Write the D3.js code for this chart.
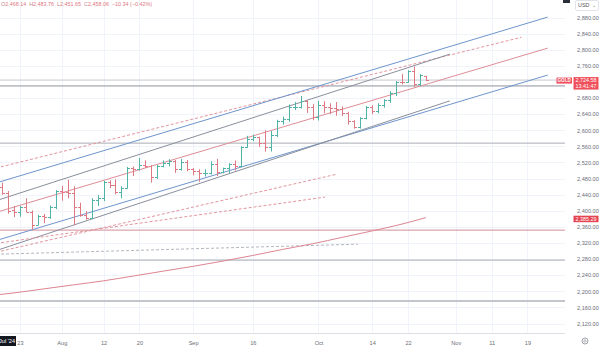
<!DOCTYPE html>
<html>
<head>
<meta charset="utf-8">
<script src="https://cdn.jsdelivr.net/npm/d3@7"></script>
<style>
  body { margin: 0; background: #fff; }
  svg { display: block; font-family: "Liberation Sans", "Noto Sans", sans-serif; }
</style>
</head>
<body>
<svg id="chart" width="600" height="353"></svg>
<script>
// daily bars, Jul 17 -> Oct 25 2024 (trading days only)
const days = ['07-17','07-18','07-19','07-22','07-23','07-24','07-25','07-26','07-29','07-30','07-31',
  '08-01','08-02','08-05','08-06','08-07','08-08','08-09','08-12','08-13','08-14','08-15','08-16',
  '08-19','08-20','08-21','08-22','08-23','08-26','08-27','08-28','08-29','08-30',
  '09-02','09-03','09-04','09-05','09-06','09-09','09-10','09-11','09-12','09-13',
  '09-16','09-17','09-18','09-19','09-20','09-23','09-24','09-25','09-26','09-27','09-30',
  '10-01','10-02','10-03','10-04','10-07','10-08','10-09','10-10','10-11',
  '10-14','10-15','10-16','10-17','10-18','10-21','10-22','10-23','10-24','10-25'];
const opens = [2468.14,2458,2445,2401,2396,2409,2398,2364,2387,2384,2410,
  2448,2446,2443,2410,2390,2382,2427,2431,2472,2465,2447,2456,
  2507,2504,2514,2512,2484,2512,2518,2524,2504,2521,
  2503,2500,2493,2495,2517,2497,2506,2516,2512,2558,
  2578,2582,2569,2559,2587,2622,2628,2657,2657,2672,2658,
  2634,2663,2657,2656,2653,2644,2622,2608,2630,
  2657,2649,2662,2674,2693,2721,2720,2748,2715,2734];
const highs = [2483.76,2470,2449,2412,2412,2431,2401,2390,2392,2413,2451,
  2462,2477,2461,2420,2399,2431,2439,2474,2476,2478,2461,2509,
  2510,2531,2525,2513,2514,2525,2528,2526,2529,2526,
  2506,2503,2503,2523,2529,2507,2518,2525,2560,2586,
  2589,2584,2600,2598,2626,2634,2664,2670,2685,2674,2665,
  2673,2672,2667,2670,2659,2646,2625,2632,2660,
  2662,2667,2677,2697,2722,2740,2749,2758,2740,2735];
const lows = [2451.65,2440,2393,2384,2385,2397,2353,2364,2369,2380,2404,
  2425,2431,2364,2385,2378,2380,2412,2424,2456,2441,2431,2455,
  2486,2500,2506,2470,2479,2508,2510,2494,2500,2498,
  2488,2472,2485,2490,2486,2493,2494,2500,2508,2556,
  2573,2559,2547,2547,2583,2614,2621,2650,2654,2643,2625,
  2624,2642,2640,2636,2635,2614,2604,2604,2627,
  2640,2642,2656,2668,2685,2714,2718,2708,2710,2722];
const closes = [2458.06,2445,2400,2396,2409,2398,2364,2387,2384,2410,2448,
  2446,2443,2410,2390,2382,2427,2431,2472,2465,2447,2456,2507,
  2504,2514,2512,2484,2512,2518,2524,2504,2521,2503,
  2500,2493,2495,2517,2497,2506,2516,2512,2558,2578,
  2582,2569,2559,2587,2622,2628,2657,2657,2672,2658,2634,
  2663,2657,2656,2653,2644,2622,2608,2630,2657,
  2649,2662,2674,2693,2721,2720,2748,2715,2736,2724.58];

// hovered bar change (first bar)
const hoverChange = [-10.34, -0.42];

// 200-day average, sampled weekly (bar index, value)
const maIndex = [0, 3, 8, 13, 18, 23, 28, 33, 38, 43, 48, 53, 58, 63, 68, 72];
const maValues = [2191, 2196, 2206, 2216, 2226, 2238, 2250, 2262, 2275, 2289, 2304, 2318, 2334, 2350, 2367, 2383];
const maLast = 2385.29;

// drawn trend lines: [barIndex, price] start and end
const lineFrom = [[0, 2506], [0, 2469], [0, 2425], [0, 2396], [0, 2326], [0, 2301], [0, 2297], [0, 2319], [0, 2292]];
const lineTo = [[88, 2831], [92.4, 2881], [76, 2789], [92.4, 2804], [92.4, 2737], [76, 2673], [57.1, 2491], [55.1, 2434], [60.6, 2317]];
// horizontal levels
const levels = [2710, 2568, 2352, 2277.5, 2176];

// axis ticks
const priceTicks = [2120, 2160, 2200, 2240, 2280, 2320, 2360, 2400, 2440, 2480, 2520, 2560, 2600, 2640, 2680, 2760, 2800, 2840, 2880];
const timeTickIndex = [4, 11, 18, 24, 33, 43, 54, 63, 69, 77, 83, 89];
const timeTickLabels = ['23', 'Aug', '12', '20', 'Sep', '16', 'Oct', '14', '22', 'Nov', '11', '19'];

const W = 600, H = 353, plotW = 565, plotH = 333;
const upColor = '#4fb3a5', downColor = '#de7883';

const svg = d3.select('#chart');

const xScale = d3.scaleLinear().domain([0, 95]).range([-3.9, 563.25]);
const yScale = d3.scaleLinear().domain([2120, 2880]).range([323.5, 17.5]);

svg.append('clipPath').attr('id', 'plot')
  .append('rect').attr('width', plotW).attr('height', plotH);

const plot = svg.append('g').attr('clip-path', 'url(#plot)');

// grid
plot.append('g').selectAll('line').data(priceTicks).join('line')
  .attr('x1', 0).attr('x2', plotW)
  .attr('y1', d => Math.round(yScale(d)) + 0.5).attr('y2', d => Math.round(yScale(d)) + 0.5)
  .attr('stroke', '#f0f3fa');
plot.append('g').selectAll('line').data(timeTickIndex).join('line')
  .attr('y1', 0).attr('y2', plotH)
  .attr('x1', d => Math.round(xScale(d)) + 0.5).attr('x2', d => Math.round(xScale(d)) + 0.5)
  .attr('stroke', '#f0f3fa');

// horizontal levels
const levelColors = ['#8f939e', '#a9acb6', '#d9a3ab', '#b8bbc3', '#c3c5cc'];
const levelWidths = [1, 1, 1.2, 1.2, 2];
plot.append('g').selectAll('line').data(levels).join('line')
  .attr('x1', 0).attr('x2', plotW)
  .attr('y1', d => yScale(d)).attr('y2', d => yScale(d))
  .attr('stroke', (_, i) => levelColors[i])
  .attr('stroke-width', (_, i) => levelWidths[i]);

// current price line
plot.append('line')
  .attr('x1', 0).attr('x2', plotW)
  .attr('y1', yScale(closes[closes.length - 1])).attr('y2', yScale(closes[closes.length - 1]))
  .attr('stroke', '#c8c9cf');

// trend lines
const lineColors = ['#e2959d', '#6e95cc', '#8a8f9c', '#de8d96', '#6e95cc', '#8a8f9c', '#e2959d', '#e2959d', '#b4b7c0'];
const lineDash = [true, false, false, false, false, false, true, true, true];
plot.append('g').selectAll('line').data(lineFrom).join('line')
  .attr('x1', d => xScale(d[0])).attr('y1', d => yScale(d[1]))
  .attr('x2', (_, i) => xScale(lineTo[i][0])).attr('y2', (_, i) => yScale(lineTo[i][1]))
  .attr('stroke', (_, i) => lineColors[i])
  .attr('stroke-dasharray', (_, i) => lineDash[i] ? '3,2' : null);

// moving average
const maGen = d3.line()
  .x((_, i) => xScale(maIndex[i]))
  .y(d => yScale(d))
  .curve(d3.curveMonotoneX);
plot.append('path')
  .attr('d', maGen(maValues))
  .attr('fill', 'none')
  .attr('stroke', '#dc8590');

// OHLC bars
const bars = plot.append('g').selectAll('g').data(days).join('g')
  .attr('stroke', (_, i) => closes[i] >= opens[i] ? upColor : downColor);
const bx = i => Math.round(xScale(i)) + 0.5;
bars.append('line')
  .attr('x1', (_, i) => bx(i)).attr('x2', (_, i) => bx(i))
  .attr('y1', (_, i) => yScale(highs[i])).attr('y2', (_, i) => yScale(lows[i]));
bars.append('line')
  .attr('x1', (_, i) => bx(i) - 2.5).attr('x2', (_, i) => bx(i))
  .attr('y1', (_, i) => Math.round(yScale(opens[i])) + 0.5).attr('y2', (_, i) => Math.round(yScale(opens[i])) + 0.5);
bars.append('line')
  .attr('x1', (_, i) => bx(i)).attr('x2', (_, i) => bx(i) + 2.5)
  .attr('y1', (_, i) => Math.round(yScale(closes[i])) + 0.5).attr('y2', (_, i) => Math.round(yScale(closes[i])) + 0.5);

// price axis
const fmt = d3.format(',.2f');
const yAxis = svg.append('g')
  .attr('transform', `translate(${plotW + 9},0)`)
  .call(d3.axisRight(yScale).tickValues(priceTicks).tickFormat(fmt).tickSize(0));
yAxis.select('.domain').remove();
yAxis.selectAll('text')
  .attr('font-size', 5.6).attr('fill', '#6b6e78').attr('font-family', 'Liberation Sans, sans-serif');

// time axis
svg.append('line')
  .attr('x1', 0).attr('x2', plotW).attr('y1', plotH + 0.5).attr('y2', plotH + 0.5)
  .attr('stroke', '#dcdee4');
const xAxis = svg.append('g')
  .attr('transform', `translate(0,${plotH + 5})`)
  .call(d3.axisBottom(xScale).tickValues(timeTickIndex).tickFormat((_, i) => timeTickLabels[i]).tickSize(0));
xAxis.select('.domain').remove();
xAxis.selectAll('text')
  .attr('font-size', 5.6).attr('fill', '#6b6e78').attr('font-family', 'Liberation Sans, sans-serif');

// crosshair date box (cut at the left edge)
svg.append('rect').attr('x', 0).attr('y', 336).attr('width', 16).attr('height', 10).attr('fill', '#131722');
svg.append('text').attr('x', 15).attr('y', 343).attr('text-anchor', 'end')
  .attr('font-size', 5.6).attr('fill', '#fff').text("Jul '24");

// settings gear
svg.append('circle').attr('cx', 585).attr('cy', 341).attr('r', 3).attr('fill', 'none').attr('stroke', '#8a8d96').attr('stroke-width', 0.8);
svg.append('circle').attr('cx', 585).attr('cy', 341).attr('r', 1.2).attr('fill', 'none').attr('stroke', '#8a8d96').attr('stroke-width', 0.6);

// last price labels
const last = closes[closes.length - 1];
const yLast = yScale(last);
svg.append('rect').attr('x', 556.5).attr('y', yLast - 2.5).attr('width', 15.5).attr('height', 6).attr('fill', '#ef4f5a');
svg.append('text').attr('x', 564.2).attr('y', yLast + 2).attr('text-anchor', 'middle')
  .attr('font-size', 4.6).attr('font-weight', 'bold').attr('fill', '#fff').text('GOLD');
svg.append('rect').attr('x', 573.5).attr('y', yLast - 3).attr('width', 25).attr('height', 12.5).attr('fill', '#ef4f5a');
svg.append('text').attr('x', 586).attr('y', yLast + 2.2).attr('text-anchor', 'middle')
  .attr('font-size', 5.4).attr('fill', '#fff').text(fmt(last));
svg.append('text').attr('x', 586).attr('y', yLast + 8).attr('text-anchor', 'middle')
  .attr('font-size', 5.4).attr('fill', '#fff').text('13:41:47');

// average label
const yMa = yScale(maLast);
svg.append('rect').attr('x', 573.5).attr('y', yMa - 1).attr('width', 25).attr('height', 6.5).attr('fill', '#e5434f');
svg.append('text').attr('x', 586).attr('y', yMa + 4).attr('text-anchor', 'middle')
  .attr('font-size', 5.4).attr('fill', '#fff').text(fmt(maLast));

// currency selector and toolbar stub
svg.append('rect').attr('x', 563).attr('y', 0).attr('width', 7).attr('height', 3).attr('fill', '#2a2e39');
svg.append('rect').attr('x', 575.5).attr('y', 0.5).attr('width', 23).attr('height', 10).attr('rx', 1.5)
  .attr('fill', '#fff').attr('stroke', '#e0e3eb');
svg.append('text').attr('x', 578).attr('y', 7).attr('font-size', 5.4).attr('fill', '#555').text('USD');
svg.append('text').attr('x', 592).attr('y', 7).attr('font-size', 5).attr('fill', '#777').text('⌄');

// legend of hovered bar
const hdr = svg.append('text').attr('x', 1).attr('y', 6).attr('font-size', 5.4);
const hdrColor = closes[0] >= opens[0] ? upColor : downColor;
[['O', opens[0]], ['H', highs[0]], ['L', lows[0]], ['C', closes[0]]].forEach(([k, v], i) => {
  hdr.append('tspan').attr('dx', i ? 3 : 0).attr('fill', '#c0858c').text(k);
  hdr.append('tspan').attr('fill', hdrColor).text(fmt(v));
});
hdr.append('tspan').attr('dx', 3).attr('fill', hdrColor)
  .text(`${fmt(hoverChange[0]).replace('-', '−')} (${hoverChange[1].toFixed(2).replace('-', '−')}%)`);
</script>
</body>
</html>
